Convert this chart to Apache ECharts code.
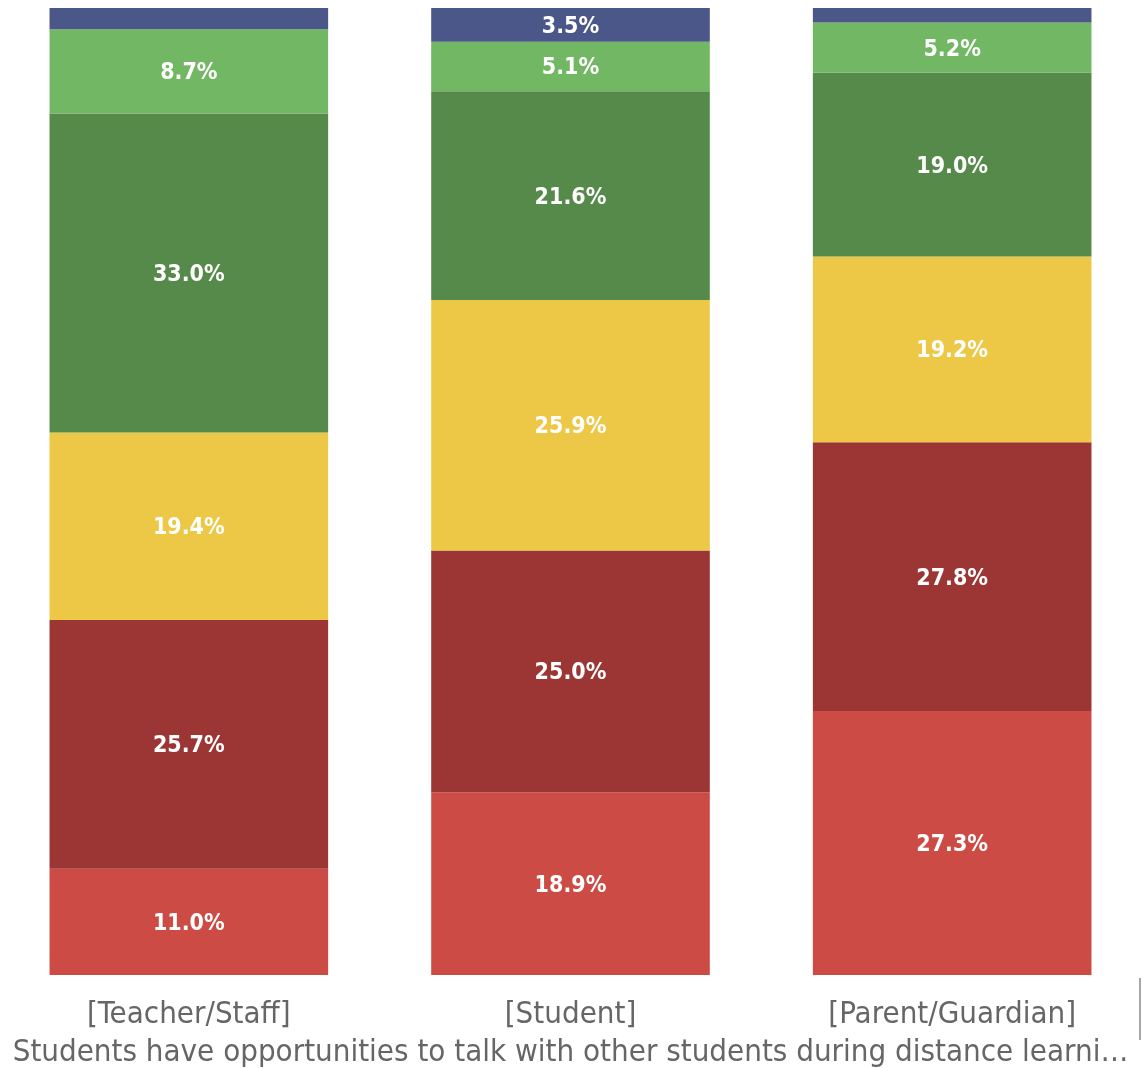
<!DOCTYPE html>
<html>
<head>
<meta charset="utf-8">
<script src="https://cdn.jsdelivr.net/npm/echarts@6/dist/echarts.min.js"></script>
<style>
  html, body { margin: 0; padding: 0; background: #fff; }
  #chart { width: 1143px; height: 1068px; }
</style>
</head>
<body>
<div id="chart"></div>
<script>
// groups on the x axis
const groups = ['[Teacher/Staff]', '[Student]', '[Parent/Guardian]'];
const axisTitle = 'Students have opportunities to talk with other students during distance learni\u2026';

// stacked shares, bottom to top
const seg1 = [11.0, 18.9, 27.3];
const seg2 = [25.7, 25.0, 27.8];
const seg3 = [19.4, 25.9, 19.2];
const seg4 = [33.0, 21.6, 19.0];
const seg5 = [8.7, 5.1, 5.2];
const seg6 = [2.2, 3.5, 1.5];

const colors = ['#CD4B45', '#9B3634', '#ECC846', '#558A4A', '#72B763', '#4A5788'];
const stacks = [seg1, seg2, seg3, seg4, seg5, seg6];

const font = '"DejaVu Sans Condensed", "DejaVu Sans", sans-serif';

let chart = echarts.init(document.getElementById('chart'));

let series = stacks.map(function (vals, i) {
    return {
        type: 'bar',
        stack: 'all',
        data: vals,
        barWidth: '73%',
        itemStyle: { color: colors[i] },
        label: {
            show: true,
            position: 'inside',
            offset: [0, 2],
            color: '#fff',
            fontFamily: font,
            fontWeight: 'bold',
            fontSize: 23,
            formatter: function (p) {
                return p.value >= 3 ? p.value.toFixed(1) + '%' : '';
            }
        }
    };
});

chart.setOption({
    animation: false,
    grid: { left: -2, right: 0, top: 8, bottom: 93, outerBoundsMode: 'none' },
    xAxis: {
        type: 'category',
        data: groups,
        axisLine: { show: false },
        axisTick: { show: false },
        axisLabel: { color: '#666', fontFamily: font, fontSize: 31, margin: 24 },
        name: axisTitle,
        nameLocation: 'middle',
        nameGap: 62,
        nameTextStyle: { color: '#666', fontFamily: font, fontSize: 31 }
    },
    yAxis: {
        type: 'value',
        min: 0,
        max: 100,
        show: false
    },
    graphic: [{
        type: 'line',
        shape: { x1: 1140, y1: 978, x2: 1140, y2: 1040 },
        style: { stroke: '#888', lineWidth: 1.5 }
    }],
    series: series
});
</script>
</body>
</html>
